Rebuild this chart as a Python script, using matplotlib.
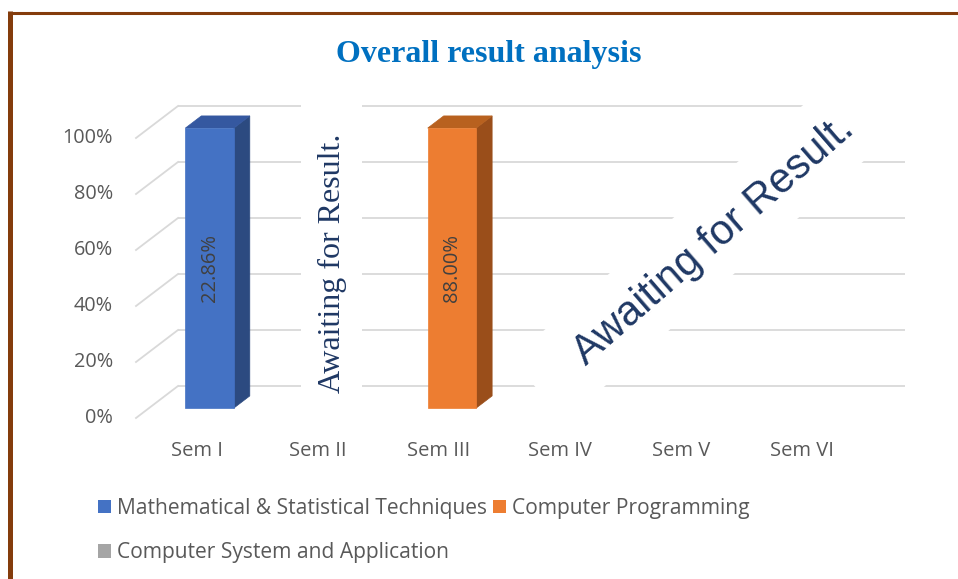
import matplotlib
matplotlib.use('Agg')
import matplotlib.pyplot as plt
import numpy as np
from matplotlib.patches import Polygon, Rectangle, Patch
from matplotlib.lines import Line2D
from matplotlib.transforms import IdentityTransform

# ---------------- data ----------------
title = 'Overall result analysis'
semesters = ['Sem I', 'Sem II', 'Sem III', 'Sem IV', 'Sem V', 'Sem VI']
series_names = ['Mathematical & Statistical Techniques',
                'Computer Programming',
                'Computer System and Application']
math_vals = [22.86, 0, 0, 0, 0, 0]
prog_vals = [0, 0, 88.00, 0, 0, 0]
csa_vals = [0, 0, 0, 0, 0, 0]
pending_text = 'Awaiting for Result.'
y_ticks = [0, 0.2, 0.4, 0.6, 0.8, 1.0]
y_tick_labels = ['0%', '20%', '40%', '60%', '80%', '100%']

# ---------------- style ----------------
front_cols = ['#4472C4', '#ED7D31', '#A5A5A5']
top_cols = ['#3558A0', '#B8611F', '#8A8A8A']
side_cols = ['#2C4A80', '#9A4E1A', '#707070']
grid_col = '#D9D9D9'
txt_col = '#595959'
navy = '#1F3864'
SANS = ['Open Sans', 'DejaVu Sans']

W, H = 958, 579
fig = plt.figure(figsize=(W / 100, H / 100), dpi=100)
BL, BR, BT, BB = 178, 905, 106, 386  # back wall in screen pixels
ax = fig.add_axes([BL / W, 1 - BB / H, (BR - BL) / W, (BB - BT) / H])
ax.set_xlim(-0.5, len(semesters) - 0.5)
ax.set_ylim(0, 1)
ax.axis('off')

DEPTH = np.array([-42.0, -32.0])
ID = IdentityTransform()


def proj(x, y, d):
    return ax.transData.transform((x, y)) + d * DEPTH


# gridlines (back wall + side wall)
for t in y_ticks:
    ax.plot([-0.5, len(semesters) - 0.5], [t, t], color=grid_col, lw=1.3,
            zorder=1, clip_on=False, solid_capstyle='butt')
    p0, p1 = proj(-0.5, t, 0), proj(-0.5, t, 1)
    ax.add_line(Line2D([p0[0], p1[0]], [p0[1], p1[1]], color=grid_col, lw=1.3,
                       transform=ID, clip_on=False, zorder=1))

# y tick labels
for t, lab in zip(y_ticks, y_tick_labels):
    p = proj(-0.5, t, 1)
    ax.text(p[0] - 23, p[1], lab, transform=ID, ha='right', va='center',
            fontsize=14.3, color=txt_col, family=SANS)

# category labels
for j, s in enumerate(semesters):
    p = proj(j, 0, 1)
    ax.text(p[0], p[1] - 33, s, transform=ID, ha='center', va='center',
            fontsize=14.5, color=txt_col, family=SANS)

# 100% stacked 3D bars
vals = np.array([math_vals, prog_vals, csa_vals], dtype=float)
totals = vals.sum(axis=0)
shares = np.divide(vals, totals, out=np.zeros_like(vals), where=totals > 0)
bottoms = np.vstack([np.zeros(vals.shape[1]), np.cumsum(shares, axis=0)[:-1]])
hw, df, db = 0.2, 0.69, 0.31
for i in range(vals.shape[0]):
    for j in range(vals.shape[1]):
        if shares[i, j] <= 0:
            continue
        x0, x1 = j - hw, j + hw
        y0, y1 = bottoms[i, j], bottoms[i, j] + shares[i, j]
        side = [proj(x1, y0, df), proj(x1, y0, db), proj(x1, y1, db), proj(x1, y1, df)]
        top = [proj(x0, y1, df), proj(x1, y1, df), proj(x1, y1, db), proj(x0, y1, db)]
        front = [proj(x0, y0, df), proj(x1, y0, df), proj(x1, y1, df), proj(x0, y1, df)]
        for pts, c in ((side, side_cols[i]), (top, top_cols[i]), (front, front_cols[i])):
            ax.add_patch(Polygon(pts, closed=True, transform=ID, clip_on=False,
                                 facecolor=c, edgecolor=c, lw=0.5, zorder=4))
        cx = (front[0][0] + front[1][0]) / 2
        cy = (front[0][1] + front[2][1]) / 2
        ax.text(cx, cy, f'{vals[i, j]:.2f}%', transform=ID, rotation=90,
                ha='center', va='center', fontsize=14.5, color='#404040',
                family=SANS, zorder=5)

# pending annotation 1 (vertical, Sem II)
p = proj(1, 0.5, 0.64)
top_px = ax.transAxes.transform((0, 1.03))[1]
bot_px = ax.transAxes.transform((0, -0.04))[1]
ax.add_patch(Rectangle((p[0] - 32, bot_px), 61, top_px - bot_px, transform=ID,
                       facecolor='white', edgecolor='none', zorder=2, clip_on=False))
ax.text(p[0], p[1] + 3, pending_text, transform=ID, rotation=90, ha='center',
        va='center', fontsize=23, color=navy, family='Liberation Serif', zorder=3)

# pending annotation 2 (diagonal, Sem IV-VI)
c = ax.transAxes.transform((0.737, 0.532))
ax.add_patch(Rectangle((c[0] - 233, c[1] - 41), 466, 82, angle=41,
                       rotation_point='center', transform=ID, facecolor='white',
                       edgecolor='none', zorder=2, clip_on=False))
ax.text(c[0], c[1] - 4, pending_text, transform=ID, rotation=41, rotation_mode='anchor',
        ha='center', va='center', fontsize=30, color=navy,
        family='Liberation Sans', zorder=3)

# title
fig.text(489 / W, 1 - 62 / H, title, ha='center', va='baseline', fontsize=23,
         fontweight='bold', color='#0070C0', family='Liberation Serif')

# legend (column-first fill with ncol=2)
handles = [Patch(facecolor=front_cols[k], edgecolor='none') for k in (0, 2, 1)]
labels = [series_names[k] for k in (0, 2, 1)]
fig.legend(handles, labels, loc='upper left', bbox_to_anchor=(98 / W, 1 - 498 / H),
           ncol=2, frameon=False, prop={'family': SANS, 'size': 15.1},
           labelcolor=txt_col, handlelength=0.63, handleheight=0.63,
           handletextpad=0.28, columnspacing=0.26, labelspacing=1.12,
           borderpad=0, borderaxespad=0)

# brown page border (left + top)
brown = '#843C0C'
fig.add_artist(Line2D([10 / W, 10 / W], [0, 1 - 11 / H], color=brown, lw=3.6,
                      transform=fig.transFigure, solid_capstyle='butt'))
fig.add_artist(Line2D([7.5 / W, 1], [1 - 12.5 / H, 1 - 12.5 / H], color=brown, lw=2.2,
                      transform=fig.transFigure, solid_capstyle='butt'))

fig.savefig('out.png', dpi=100)
